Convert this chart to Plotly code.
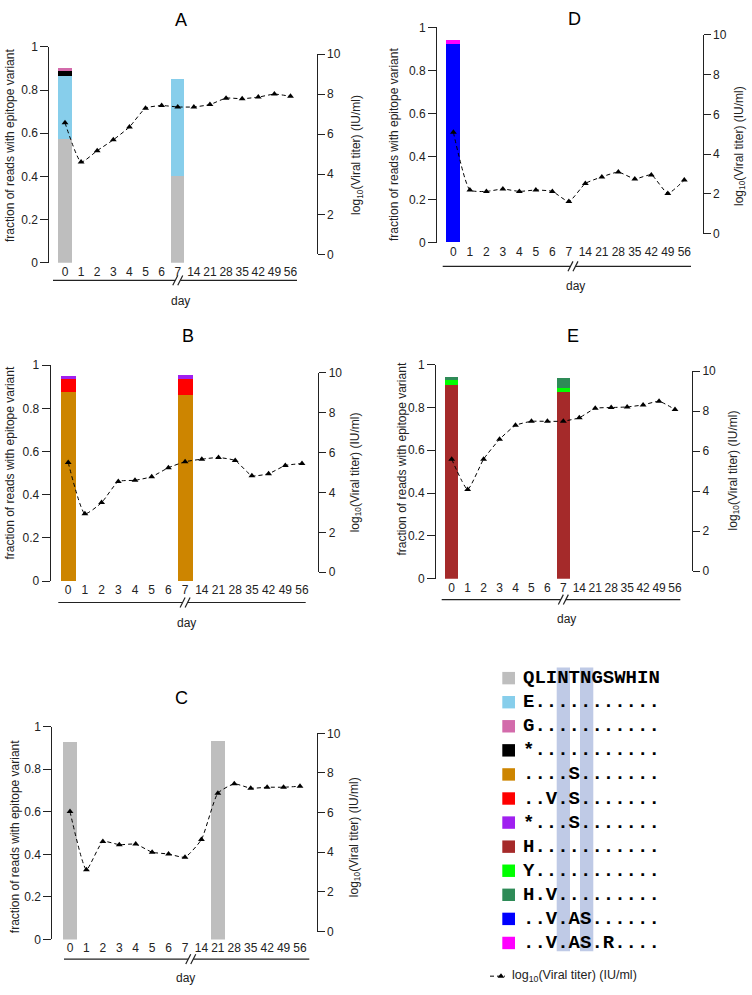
import plotly.graph_objects as go

W, H = 752, 995

# ---------------- data ----------------
days = ["0", "1", "2", "3", "4", "5", "6", "7", "14", "21", "28", "35", "42", "49", "56"]

titer_A = [6.57, 4.61, 5.18, 5.72, 6.36, 7.30, 7.43, 7.36, 7.36, 7.48, 7.80, 7.77, 7.85, 8.00, 7.89]
titer_D = [5.10, 2.20, 2.13, 2.25, 2.13, 2.20, 2.13, 1.62, 2.53, 2.86, 3.10, 2.76, 2.96, 2.03, 2.70]
titer_B = [5.50, 2.93, 3.49, 4.55, 4.61, 4.79, 5.24, 5.54, 5.67, 5.75, 5.60, 4.84, 4.94, 5.35, 5.45]
titer_E = [5.60, 4.09, 5.60, 6.59, 7.29, 7.49, 7.49, 7.50, 7.67, 8.14, 8.18, 8.21, 8.31, 8.49, 8.08]
titer_C = [6.05, 3.12, 4.54, 4.38, 4.41, 4.00, 3.91, 3.75, 4.64, 6.98, 7.45, 7.23, 7.28, 7.28, 7.33]

# sampled day indices (positions on the day axis) for the sequenced samples
samples_A = [0, 7]
samples_D = [0]
samples_B = [0, 7]
samples_E = [0, 7]
samples_C = [0, 9]

# fractions of reads per epitope variant (stacked, bottom to top)
A_wt = [0.573, 0.403]
A_E = [0.292, 0.450]
A_stop = [0.026, 0.0]
A_G = [0.011, 0.0]

D_VAS = [0.922]
D_VASR = [0.016]

B_S = [0.877, 0.863]
B_VS = [0.057, 0.071]
B_stopS = [0.017, 0.020]

E_H = [0.909, 0.874]
E_Y = [0.019, 0.020]
E_HV = [0.015, 0.045]

C_wt = [0.930, 0.935]

variant_labels = ["QLINTNGSWHIN", "E...........", "G...........", "*...........",
                  "....S.......", "..V.S.......", "*...S.......", "H...........",
                  "Y...........", "H.V.........", "..V.AS......", "..V.AS.R...."]
variant_colors = ["#bebebe", "#87ceeb", "#d36bab", "#000000", "#cd8500", "#ff0000",
                  "#a020f0", "#a52a2a", "#00ff00", "#2e8b57", "#0000ff", "#ff00ff"]
COL = dict(zip(variant_labels, variant_colors))

# ---------------- panel layout (pixel geometry) ----------------
panels = [
    dict(name="A", titer=titer_A, samples=samples_A,
         segs=[(A_wt, COL["QLINTNGSWHIN"]), (A_E, COL["E..........."]),
               (A_stop, COL["*..........."]), (A_G, COL["G..........."])],
         g=dict(lx=49.3, ly0=259.3, ly1=40.5, rx=316.7, ry0=251.0, ry1=47.7,
                c0=65.0, c14=290.5, line_y=277.3, lx0=53, lx1=297, brk=7.0,
                title=(181, 13), day=(180, 298), lt=(10, 141), rt=(357, 150))),
    dict(name="D", titer=titer_D, samples=samples_D,
         segs=[(D_VAS, COL["..V.AS......"]), (D_VASR, COL["..V.AS.R...."])],
         g=dict(lx=437.0, ly0=239.0, ly1=20.7, rx=702.7, ry0=230.0, ry1=28.3,
                c0=453.4, c14=684.3, line_y=263.0, lx0=442.7, lx1=691, brk=7.25,
                title=(574, 12), day=(575, 283), lt=(394, 140), rt=(740, 141))),
    dict(name="B", titer=titer_B, samples=samples_B,
         segs=[(B_S, COL["....S......."]), (B_VS, COL["..V.S......."]),
               (B_stopS, COL["*...S......."])],
         g=dict(lx=50.7, ly0=582.3, ly1=363.3, rx=318.3, ry0=573.3, ry1=371.0,
                c0=68.2, c14=302.0, line_y=604.0, lx0=58.3, lx1=305.7, brk=7.0,
                title=(188, 334), day=(186, 625), lt=(10, 463), rt=(356, 472))),
    dict(name="E", titer=titer_E, samples=samples_E,
         segs=[(E_H, COL["H..........."]), (E_Y, COL["Y..........."]),
               (E_HV, COL["H.V........."])],
         g=dict(lx=436.0, ly0=580.0, ly1=362.7, rx=692.0, ry0=572.3, ry1=369.3,
                c0=451.7, c14=675.0, line_y=601.0, lx0=441.7, lx1=680.3, brk=7.0,
                title=(573, 334), day=(566, 621), lt=(402, 458), rt=(734, 470))),
    dict(name="C", titer=titer_C, samples=samples_C,
         segs=[(C_wt, COL["QLINTNGSWHIN"])],
         g=dict(lx=52.3, ly0=945.7, ly1=730.0, rx=316.7, ry0=937.7, ry1=736.7,
                c0=70.0, c14=300.0, line_y=965.7, lx0=64, lx1=309.3, brk=7.35,
                title=(181, 701), day=(185, 985), lt=(15, 842), rt=(355, 842))),
]

FONT = "Liberation Sans, Arial, sans-serif"
MONO = "Liberation Mono"
AXC = "#222222"


def fx(px):
    return px / W


def fy(py):
    return 1 - py / H


def ann(text, px, py, size=12, angle=0, xanchor="center", color=AXC, family=FONT):
    return dict(text=text, x=fx(px), y=fy(py), xref="paper", yref="paper",
                xanchor=xanchor, yanchor="middle", showarrow=False, textangle=angle,
                font=dict(size=size, color=color, family=family))


fig = go.Figure()
shapes = []
annotations = []
layout_axes = {}

for k, p in enumerate(panels, start=1):
    g = p["g"]
    xname = "x" if k == 1 else f"x{k}"
    ylname = "y" if k == 1 else f"y{2 * k - 1}"
    yrname = f"y{2 * k}"
    step = (g["c14"] - g["c0"]) / 14
    r0 = (g["lx"] - g["c0"]) / step
    r1 = 14 + (g["rx"] - g["c14"]) / step

    for vals, color in p["segs"]:
        fig.add_trace(go.Bar(x=p["samples"], y=vals, xaxis=xname, yaxis=ylname,
                             marker=dict(color=color, line=dict(width=0)),
                             width=0.85, showlegend=False, hoverinfo="skip"))
    fig.add_trace(go.Scatter(x=list(range(len(days))), y=p["titer"], xaxis=xname, yaxis=yrname,
                             mode="lines+markers",
                             line=dict(color="black", width=1, dash="4px,3px",
                                       shape="spline", smoothing=0.5),
                             marker=dict(symbol="triangle-up", size=6, color="black"),
                             cliponaxis=False, showlegend=False))

    layout_axes["xaxis" if k == 1 else f"xaxis{k}"] = dict(
        domain=[fx(g["lx"]), fx(g["rx"])], range=[r0, r1], anchor=ylname,
        tickmode="array", tickvals=list(range(len(days))), ticktext=days, tickangle=0,
        ticks="", showline=False, showgrid=False, zeroline=False,
        tickfont=dict(size=12, color=AXC, family=FONT), fixedrange=True)
    layout_axes["yaxis" if k == 1 else f"yaxis{2 * k - 1}"] = dict(
        domain=[fy(g["ly0"]), fy(g["ly1"])], range=[0, 1], anchor=xname, side="left",
        tickmode="array", tickvals=[0, 0.2, 0.4, 0.6, 0.8, 1],
        ticktext=["0", "0.2", "0.4", "0.6", "0.8", "1"],
        ticks="outside", ticklen=8, tickcolor=AXC, showline=True, linecolor=AXC, linewidth=1,
        showgrid=False, zeroline=False, tickfont=dict(size=12, color=AXC, family=FONT),
        fixedrange=True)
    layout_axes[f"yaxis{2 * k}"] = dict(
        domain=[fy(g["ry0"]), fy(g["ry1"])], range=[0, 10], anchor=xname, side="right",
        tickmode="array", tickvals=[0, 2, 4, 6, 8, 10],
        ticks="outside", ticklen=7, tickcolor=AXC, showline=True, linecolor=AXC, linewidth=1,
        showgrid=False, zeroline=False, tickfont=dict(size=12, color=AXC, family=FONT),
        fixedrange=True)

    # day axis line with break
    bx = g["c0"] + g["brk"] * step
    ly = g["line_y"]
    for a, b in [(g["lx0"], bx - 2.5), (bx + 2.5, g["lx1"])]:
        shapes.append(dict(type="line", xref="paper", yref="paper",
                           x0=fx(a), x1=fx(b), y0=fy(ly), y1=fy(ly),
                           line=dict(color=AXC, width=1.2)))
    for off in (-2.5, 2.5):
        shapes.append(dict(type="line", xref="paper", yref="paper",
                           x0=fx(bx + off - 2.5), x1=fx(bx + off + 2.5),
                           y0=fy(ly + 5), y1=fy(ly - 5),
                           line=dict(color=AXC, width=1.2)))

    annotations.append(ann(p["name"], *g["title"], size=18, color="black"))
    annotations.append(ann("day", *g["day"], size=12))
    annotations.append(ann("fraction of reads with epitope variant", *g["lt"], size=12, angle=-90))
    annotations.append(ann("log<sub>10</sub>(Viral titer) (IU/ml)", *g["rt"], size=12, angle=-90))

# ---------------- variant legend ----------------
for x0, x1 in [(556.7, 570.0), (580.0, 593.3)]:
    shapes.append(dict(type="rect", xref="paper", yref="paper", x0=fx(x0), x1=fx(x1),
                       y0=fy(957.7), y1=fy(670.0), fillcolor="#bfcae6",
                       line=dict(width=0), layer="below"))

row0, drow = 680.7, 24.42
for i, (lab, col) in enumerate(zip(variant_labels, variant_colors)):
    cy = row0 + i * drow
    shapes.append(dict(type="rect", xref="paper", yref="paper", x0=fx(502.3), x1=fx(515.0),
                       y0=fy(cy + 6.3), y1=fy(cy - 6.3), fillcolor=col, line=dict(width=0)))
    annotations.append(ann("<b>" + lab + "</b>", 521.0, cy, size=19, xanchor="left",
                           color="black", family=MONO))

# titer legend entry (helper overlay axes in pixel units)
fig.add_trace(go.Scatter(x=[490, 505], y=[983, 983], xaxis="x6", yaxis="y11", mode="lines",
                         line=dict(color="black", width=1, dash="4px,3px"),
                         showlegend=False, hoverinfo="skip"))
fig.add_trace(go.Scatter(x=[501], y=[983], xaxis="x6", yaxis="y11", mode="markers",
                         marker=dict(symbol="triangle-up", size=6, color="black"),
                         showlegend=False, hoverinfo="skip"))
layout_axes["xaxis6"] = dict(domain=[0, 1], range=[0, W], visible=False, anchor="y11", fixedrange=True)
layout_axes["yaxis11"] = dict(domain=[0, 1], range=[H, 0], visible=False, anchor="x6", fixedrange=True)
annotations.append(ann("log<sub>10</sub>(Viral titer) (IU/ml)", 510, 983, size=12.5, xanchor="left"))

fig.update_layout(width=W, height=H, margin=dict(l=0, r=0, t=0, b=0),
                  paper_bgcolor="white", plot_bgcolor="rgba(0,0,0,0)",
                  barmode="stack", bargap=0, showlegend=False,
                  shapes=shapes, annotations=annotations, **layout_axes)

fig.write_html("out.html", config={"displayModeBar": False},
               post_script="document.body.style.margin='0';document.body.style.overflow='hidden';")
